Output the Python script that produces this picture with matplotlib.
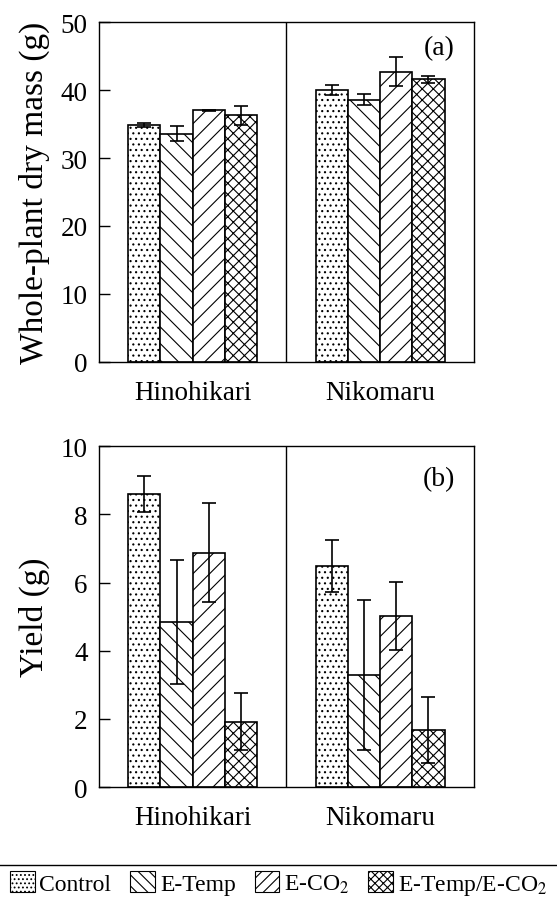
import matplotlib.pyplot as plt
import numpy as np
from matplotlib.lines import Line2D
from matplotlib.patches import Patch

plt.rcParams['font.family'] = ['Liberation Serif', 'DejaVu Serif']
plt.rcParams['mathtext.fontset'] = 'stix'
plt.rcParams['hatch.linewidth'] = 0.8

# Datos
cultivares = ["Hinohikari", "Nikomaru"]
tratamientos = ["Control", "E-Temp", r"E-CO$_2$", r"E-Temp/E-CO$_2$"]
tramas = ["...", "\\\\", "//", "xxx"]

# (a) masa seca de planta entera (g)
masa_hino = [34.9, 33.6, 37.0, 36.3]
masa_hino_err = [0.3, 1.05, 0.1, 1.4]
masa_niko = [40.0, 38.6, 42.7, 41.6]
masa_niko_err = [0.75, 0.8, 2.1, 0.5]

# (b) rendimiento (g)
rend_hino = [8.60, 4.85, 6.88, 1.92]
rend_hino_err = [0.52, 1.82, 1.45, 0.83]
rend_niko = [6.49, 3.30, 5.02, 1.67]
rend_niko_err = [0.77, 2.20, 0.99, 0.97]

fig = plt.figure(figsize=(5.57, 9.04), dpi=100)
ax_a = fig.add_axes([0.1777, 0.5985, 0.673, 0.376])
ax_b = fig.add_axes([0.1777, 0.1283, 0.673, 0.377])

ancho = 0.172
centros = np.array([0.5, 1.5])
offsets = (np.arange(4) - 1.5) * ancho


def dibujar(ax, hino, hino_err, niko, niko_err, ymax, paso, ylabel, etiqueta, ytxt):
    for i in range(4):
        vals = [hino[i], niko[i]]
        errs = [hino_err[i], niko_err[i]]
        ax.bar(centros + offsets[i], vals, ancho, yerr=errs, color="white",
               edgecolor="black", linewidth=1.2, hatch=tramas[i],
               error_kw=dict(ecolor="black", elinewidth=1.2, capsize=4.7, capthick=1.2),
               zorder=2)
    ax.axvline(1.0, color="black", linewidth=1.0)
    ax.set_xlim(0, 2)
    ax.set_ylim(0, ymax)
    ax.set_yticks(np.arange(0, ymax + paso / 2, paso))
    ax.set_xticks(centros)
    ax.set_xticklabels(cultivares)
    ax.tick_params(axis="y", direction="in", length=8, width=1, labelsize=19.5, pad=8)
    ax.tick_params(axis="x", length=0, labelsize=19.5, pad=13)
    for s in ax.spines.values():
        s.set_linewidth(1.0)
    ax.set_ylabel(ylabel, fontsize=24)
    ax.yaxis.set_label_coords(-0.13, 0.5)
    ax.text(0.95, ytxt, etiqueta, transform=ax.transAxes, ha="right", va="center",
            fontsize=20)


dibujar(ax_a, masa_hino, masa_hino_err, masa_niko, masa_niko_err, 50, 10,
        "Whole-plant dry mass (g)", "(a)", 0.925)
dibujar(ax_b, rend_hino, rend_hino_err, rend_niko, rend_niko_err, 10, 2,
        "Yield (g)", "(b)", 0.905)

# Linea separadora y leyenda
fig.add_artist(Line2D([0, 1], [1 - 866 / 904, 1 - 866 / 904], transform=fig.transFigure,
                      color="black", linewidth=1.0))
handles = [Patch(facecolor="white", edgecolor="black", hatch=tramas[i] + tramas[i][0],
                 linewidth=0.8, label=tratamientos[i]) for i in range(4)]
fig.legend(handles=handles, loc="center", bbox_to_anchor=(0.5, 1 - 885 / 904), ncol=4,
           frameon=False, fontsize=17, handlelength=1.05, handleheight=1.0,
           handletextpad=0.2, columnspacing=0.8, borderaxespad=0, borderpad=0)

fig.savefig("out.png", dpi=100)
